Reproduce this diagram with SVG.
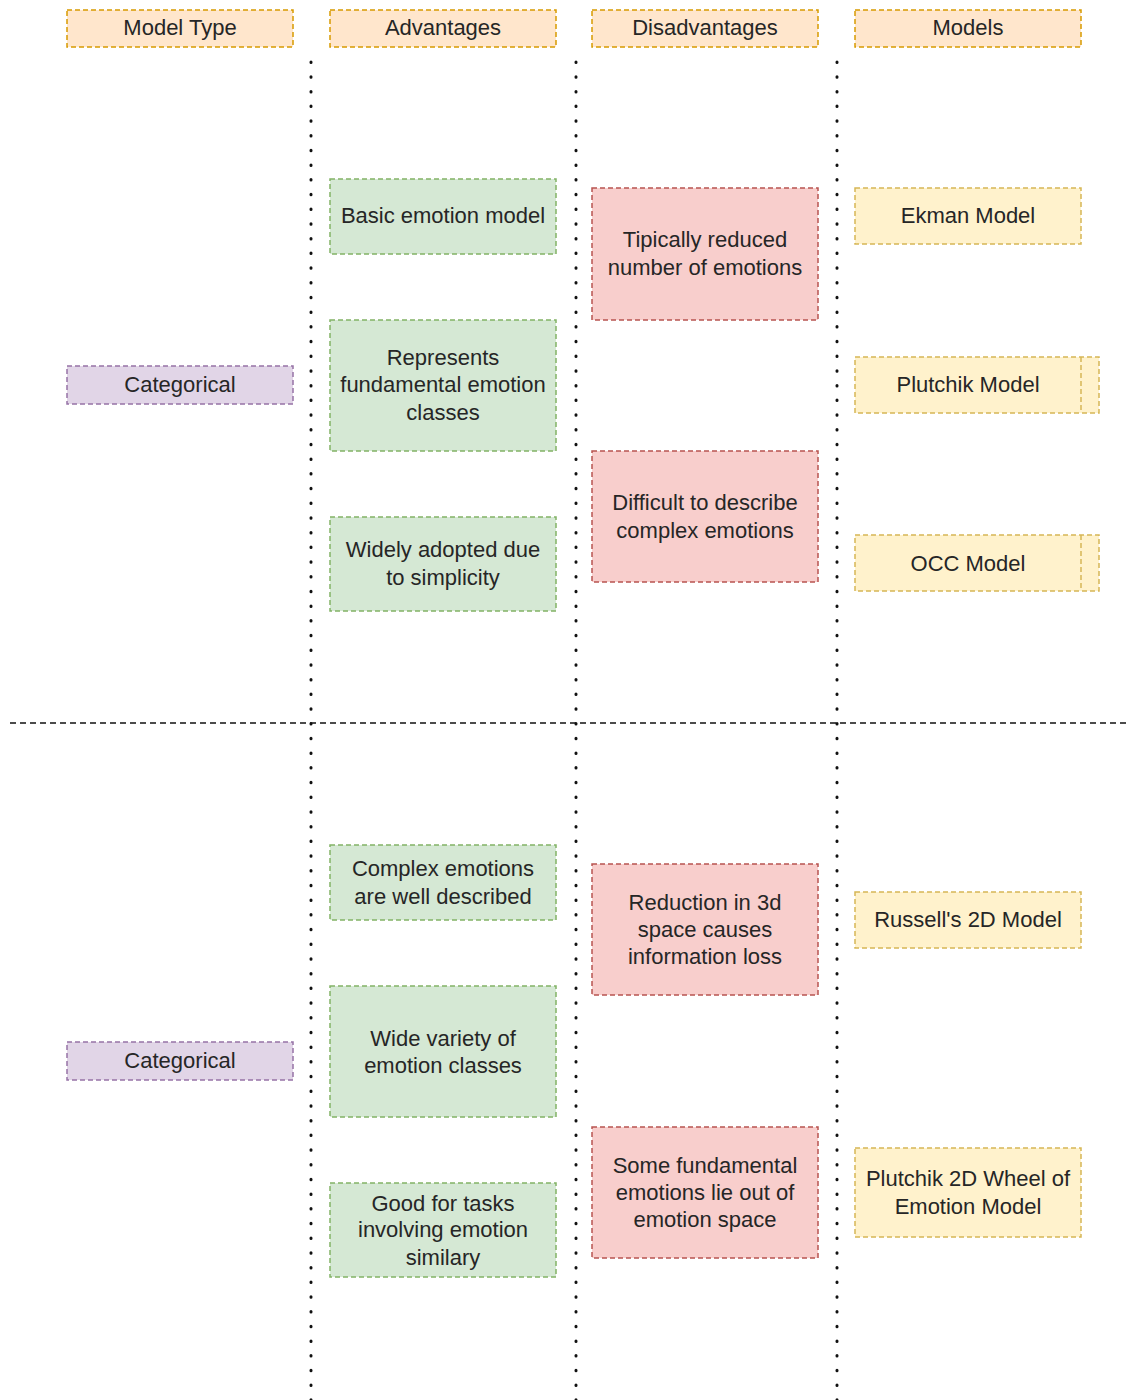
<svg xmlns="http://www.w3.org/2000/svg" width="1130" height="1400" viewBox="0 0 1130 1400">
  <style>
    .box { stroke-width: 1.5; stroke-dasharray: 5 3; }
    .hdr { fill: #ffe6cc; stroke: #d79b00; }
    .typ { fill: #e1d5e7; stroke: #9673a6; }
    .adv { fill: #d5e8d4; stroke: #82b366; }
    .dis { fill: #f8cecc; stroke: #b85450; }
    .mdl { fill: #fff2cc; stroke: #d6b656; }
    text { font-family: "Liberation Sans", Arial, sans-serif; font-size: 22px; fill: #262626; text-anchor: middle; }
    .dots { stroke: #111; stroke-width: 3; stroke-linecap: round; stroke-dasharray: 0.5 14.2; fill: none; }
    .sep { stroke: #111; stroke-width: 1.5; stroke-dasharray: 6 4; fill: none; }
  </style>

  <!-- column and row separators -->
  <g id="connectors">
    <line class="dots" x1="311" y1="62" x2="311" y2="1400"/>
    <line class="dots" x1="576" y1="62" x2="576" y2="1400"/>
    <line class="dots" x1="837" y1="62" x2="837" y2="1400"/>
    <line class="sep" x1="10" y1="723" x2="1130" y2="723"/>
  </g>

  <!-- column headers -->
  <g id="hdr-type"><rect class="box hdr" x="67" y="10" width="226" height="37"/><text x="180" y="35">Model Type</text></g>
  <g id="hdr-adv"><rect class="box hdr" x="330" y="10" width="226" height="37"/><text x="443" y="35">Advantages</text></g>
  <g id="hdr-dis"><rect class="box hdr" x="592" y="10" width="226" height="37"/><text x="705" y="35">Disadvantages</text></g>
  <g id="hdr-models"><rect class="box hdr" x="855" y="10" width="226" height="37"/><text x="968" y="35">Models</text></g>

  <!-- upper section -->
  <g id="type-1"><rect class="box typ" x="67" y="366" width="226" height="38"/><text x="180" y="392">Categorical</text></g>

  <g id="adv-1"><rect class="box adv" x="330" y="179" width="226" height="75"/><text x="443" y="223">Basic emotion model</text></g>
  <g id="adv-2"><rect class="box adv" x="330" y="320" width="226" height="131"/>
    <text x="443" y="365">Represents</text><text x="443" y="392">fundamental emotion</text><text x="443" y="420">classes</text></g>
  <g id="adv-3"><rect class="box adv" x="330" y="517" width="226" height="94"/>
    <text x="443" y="557">Widely adopted due</text><text x="443" y="585">to simplicity</text></g>

  <g id="dis-1"><rect class="box dis" x="592" y="188" width="226" height="132"/>
    <text x="705" y="247">Tipically reduced</text><text x="705" y="275">number of emotions</text></g>
  <g id="dis-2"><rect class="box dis" x="592" y="451" width="226" height="131"/>
    <text x="705" y="510">Difficult to describe</text><text x="705" y="538">complex emotions</text></g>

  <g id="mdl-ekman"><rect class="box mdl" x="855" y="188" width="226" height="56"/><text x="968" y="223">Ekman Model</text></g>
  <g id="mdl-plutchik"><rect class="box mdl" x="855" y="357" width="244" height="56"/><line class="box" stroke="#d6b656" x1="1081" y1="357" x2="1081" y2="413"/><text x="968" y="392">Plutchik Model</text></g>
  <g id="mdl-occ"><rect class="box mdl" x="855" y="535" width="244" height="56"/><line class="box" stroke="#d6b656" x1="1081" y1="535" x2="1081" y2="591"/><text x="968" y="571">OCC Model</text></g>

  <!-- lower section -->
  <g id="type-2"><rect class="box typ" x="67" y="1042" width="226" height="38"/><text x="180" y="1068">Categorical</text></g>

  <g id="adv-4"><rect class="box adv" x="330" y="845" width="226" height="75"/>
    <text x="443" y="876">Complex emotions</text><text x="443" y="904">are well described</text></g>
  <g id="adv-5"><rect class="box adv" x="330" y="986" width="226" height="131"/>
    <text x="443" y="1046">Wide variety of</text><text x="443" y="1073">emotion classes</text></g>
  <g id="adv-6"><rect class="box adv" x="330" y="1183" width="226" height="94"/>
    <text x="443" y="1211">Good for tasks</text><text x="443" y="1237">involving emotion</text><text x="443" y="1265">similary</text></g>

  <g id="dis-3"><rect class="box dis" x="592" y="864" width="226" height="131"/>
    <text x="705" y="910">Reduction in 3d</text><text x="705" y="937">space causes</text><text x="705" y="964">information loss</text></g>
  <g id="dis-4"><rect class="box dis" x="592" y="1127" width="226" height="131"/>
    <text x="705" y="1173">Some fundamental</text><text x="705" y="1200">emotions lie out of</text><text x="705" y="1227">emotion space</text></g>

  <g id="mdl-russell"><rect class="box mdl" x="855" y="892" width="226" height="56"/><text x="968" y="927">Russell's 2D Model</text></g>
  <g id="mdl-wheel"><rect class="box mdl" x="855" y="1148" width="226" height="89"/>
    <text x="968" y="1186">Plutchik 2D Wheel of</text><text x="968" y="1214">Emotion Model</text></g>
</svg>
